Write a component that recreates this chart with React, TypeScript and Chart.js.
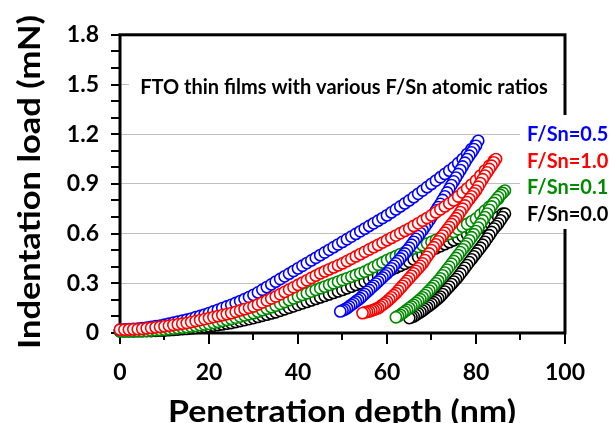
import React, { useEffect, useRef } from "react";
import { Chart, registerables } from "chart.js";
Chart.register(...registerables);

// Loading branch: depth (nm) shared by all series
const loadDepth = [0,1,2,3,4,5,6,7,8,9,10,11,12,13,14,15,16,17,18,19,20,21,22,23,24,25,26,27,28,29,30,31,32,33,34,35,36,37,38,39,40,41,42,43,44,45,46,47,48,49,50,51,52,53,54,55,56,57,58,59,60,61,62,63,64,65,66,67,68,69,70,71,72,73,74,75,76,77,78,79,80,81,82,83,84,85,86];

// F/Sn=0.5 (blue)
const blueLoad = [0.020,0.021,0.023,0.025,0.027,0.030,0.033,0.037,0.041,0.045,0.050,0.056,0.062,0.068,0.074,0.080,0.087,0.095,0.103,0.111,0.120,0.130,0.140,0.150,0.160,0.170,0.181,0.193,0.205,0.217,0.230,0.245,0.261,0.277,0.293,0.310,0.326,0.342,0.358,0.374,0.390,0.406,0.422,0.438,0.454,0.470,0.486,0.502,0.518,0.534,0.550,0.566,0.582,0.598,0.614,0.630,0.646,0.662,0.678,0.694,0.710,0.728,0.746,0.764,0.782,0.800,0.820,0.840,0.860,0.880,0.900,0.920,0.940,0.960,0.980,1.000,1.025,1.050,1.080,1.110,1.140];
const blueUnloadDepth = [80.5,80,79.5,79,78.5,78,77.5,77,76.5,76,75.5,75,74.5,74,73.5,73,72.5,72,71.5,71,70.5,70,69.5,69,68.5,68,67.5,67,66.5,66,65.5,65,64.5,64,63.5,63,62.5,62,61.5,61,60.5,60,59.5,59,58.5,58,57.5,57,56.5,56,55.5,55,54.5,54,53.5,53,52.5,52,51.5,51,50.5,50,49.5];
const blueUnload = [1.160,1.130,1.110,1.090,1.070,1.050,1.028,1.005,0.983,0.960,0.938,0.915,0.893,0.870,0.848,0.825,0.803,0.780,0.760,0.740,0.720,0.700,0.680,0.660,0.640,0.620,0.603,0.585,0.568,0.550,0.533,0.515,0.498,0.480,0.465,0.450,0.435,0.420,0.405,0.390,0.375,0.360,0.348,0.335,0.323,0.310,0.298,0.285,0.273,0.260,0.248,0.235,0.223,0.210,0.200,0.190,0.180,0.170,0.160,0.150,0.142,0.136,0.130];

// F/Sn=1.0 (red)
const redLoad = [0.020,0.020,0.021,0.022,0.023,0.025,0.028,0.031,0.034,0.037,0.040,0.044,0.048,0.052,0.056,0.060,0.066,0.072,0.078,0.084,0.090,0.096,0.102,0.108,0.114,0.120,0.128,0.136,0.144,0.152,0.160,0.172,0.184,0.196,0.208,0.220,0.234,0.248,0.262,0.276,0.290,0.304,0.318,0.332,0.346,0.360,0.372,0.384,0.396,0.408,0.420,0.434,0.448,0.462,0.476,0.490,0.504,0.518,0.532,0.546,0.560,0.574,0.588,0.602,0.616,0.630,0.646,0.662,0.678,0.694,0.710,0.728,0.746,0.764,0.782,0.800,0.824,0.848,0.872,0.896,0.920,0.950,0.980,1.010,1.040];
const redUnloadDepth = [84.5,84,83.5,83,82.5,82,81.5,81,80.5,80,79.5,79,78.5,78,77.5,77,76.5,76,75.5,75,74.5,74,73.5,73,72.5,72,71.5,71,70.5,70,69.5,69,68.5,68,67.5,67,66.5,66,65.5,65,64.5,64,63.5,63,62.5,62,61.5,61,60.5,60,59.5,59,58.5,58,57.5,57,56.5,56,55.5,55,54.5];
const redUnload = [1.050,1.030,1.010,0.990,0.970,0.950,0.928,0.905,0.883,0.860,0.843,0.825,0.808,0.790,0.770,0.750,0.730,0.710,0.693,0.675,0.658,0.640,0.623,0.605,0.588,0.570,0.553,0.535,0.518,0.500,0.480,0.460,0.440,0.420,0.405,0.390,0.375,0.360,0.345,0.330,0.315,0.300,0.285,0.270,0.255,0.240,0.228,0.215,0.203,0.190,0.180,0.170,0.160,0.150,0.145,0.140,0.135,0.130,0.127,0.124,0.120];

// F/Sn=0.1 (green)
const greenLoad = [0.010,0.010,0.010,0.011,0.011,0.012,0.013,0.015,0.017,0.018,0.020,0.023,0.026,0.029,0.032,0.035,0.039,0.043,0.047,0.051,0.055,0.061,0.067,0.073,0.079,0.085,0.092,0.099,0.106,0.113,0.120,0.129,0.138,0.147,0.156,0.165,0.176,0.187,0.198,0.209,0.220,0.230,0.240,0.250,0.260,0.270,0.280,0.290,0.300,0.310,0.320,0.330,0.340,0.350,0.360,0.370,0.384,0.398,0.412,0.426,0.440,0.452,0.464,0.476,0.488,0.500,0.510,0.520,0.530,0.540,0.550,0.562,0.574,0.586,0.598,0.610,0.626,0.642,0.658,0.674,0.690,0.714,0.738,0.762,0.786,0.810,0.850];
const greenUnloadDepth = [86.5,86,85.5,85,84.5,84,83.5,83,82.5,82,81.5,81,80.5,80,79.5,79,78.5,78,77.5,77,76.5,76,75.5,75,74.5,74,73.5,73,72.5,72,71.5,71,70.5,70,69.5,69,68.5,68,67.5,67,66.5,66,65.5,65,64.5,64,63.5,63,62.5,62];
const greenUnload = [0.860,0.845,0.833,0.820,0.803,0.785,0.764,0.743,0.721,0.700,0.679,0.658,0.636,0.615,0.596,0.578,0.559,0.540,0.523,0.505,0.488,0.470,0.453,0.435,0.418,0.400,0.383,0.365,0.348,0.330,0.315,0.300,0.285,0.270,0.256,0.243,0.229,0.215,0.204,0.193,0.181,0.170,0.160,0.150,0.140,0.130,0.120,0.110,0.102,0.095];

// F/Sn=0.0 (black)
const blackLoad = [0.010,0.010,0.010,0.010,0.011,0.011,0.012,0.012,0.013,0.014,0.015,0.017,0.019,0.021,0.023,0.025,0.028,0.031,0.034,0.037,0.040,0.044,0.048,0.052,0.056,0.060,0.066,0.072,0.078,0.084,0.090,0.097,0.104,0.111,0.118,0.125,0.134,0.143,0.152,0.161,0.170,0.179,0.188,0.197,0.206,0.215,0.224,0.233,0.242,0.251,0.260,0.270,0.280,0.290,0.300,0.310,0.322,0.334,0.346,0.358,0.370,0.382,0.394,0.406,0.418,0.430,0.444,0.458,0.472,0.486,0.500,0.512,0.524,0.536,0.548,0.560,0.572,0.584,0.596,0.608,0.620,0.636,0.652,0.668,0.684,0.700,0.720];
const blackUnloadDepth = [86.5,86,85.5,85,84.5,84,83.5,83,82.5,82,81.5,81,80.5,80,79.5,79,78.5,78,77.5,77,76.5,76,75.5,75,74.5,74,73.5,73,72.5,72,71.5,71,70.5,70,69.5,69,68.5,68,67.5,67,66.5,66,65.5,65];
const blackUnload = [0.720,0.700,0.680,0.660,0.645,0.630,0.610,0.590,0.570,0.550,0.533,0.515,0.498,0.480,0.463,0.445,0.428,0.410,0.393,0.375,0.358,0.340,0.325,0.310,0.295,0.280,0.265,0.250,0.235,0.220,0.209,0.198,0.186,0.175,0.165,0.155,0.145,0.135,0.126,0.118,0.109,0.100,0.095,0.090];

// Legend (top to bottom) and colours
const legendLabels = ["F/Sn=0.5", "F/Sn=1.0", "F/Sn=0.1", "F/Sn=0.0"];
const legendColors = ["#0000ff", "#ff0000", "#008a00", "#000000"];
const chartTitle = "FTO thin films with various F/Sn atomic ratios";
const xTitle = "Penetration depth (nm)";
const yTitle = "Indentation load (mN)";

const FONT = "Lato, 'Open Sans', sans-serif";

function pts(depth: number[], load: number[]) {
  const n = Math.min(depth.length, load.length);
  const out: { x: number; y: number }[] = [];
  for (let i = 0; i < n; i++) out.push({ x: depth[i], y: load[i] });
  return out;
}

function series(label: string, color: string, ld: number[], ud: number[], ul: number[]) {
  return {
    label,
    data: [...pts(loadDepth, ld), ...pts(ud, ul)],
    showLine: false,
    pointRadius: 5.6,
    pointBorderWidth: 1.6,
    pointBorderColor: color,
    pointBackgroundColor: "#ffffff",
    clip: false as any,
  };
}

// draw text stretched horizontally to a target ink width
function fitText(ctx: CanvasRenderingContext2D, text: string, cx: number, baseY: number, width: number) {
  const w = ctx.measureText(text).width;
  const s = width / w;
  ctx.save();
  ctx.translate(cx, baseY);
  ctx.scale(s, 1);
  ctx.textAlign = "center";
  ctx.fillText(text, 0, 0);
  ctx.restore();
}

const decor = {
  id: "decor",
  beforeDatasetsDraw(chart: any) {
    const { ctx, chartArea: a, scales } = chart;
    const x = scales.x, y = scales.y;
    ctx.save();
    ctx.strokeStyle = "#000";
    ctx.lineWidth = 2;
    // y ticks (major every 0.3, minor every 0.1), outward
    for (let k = 0; k <= 18; k++) {
      const py = Math.round(y.getPixelForValue(k / 10));
      ctx.beginPath();
      ctx.moveTo(a.left - 9, py);
      ctx.lineTo(a.left, py);
      ctx.stroke();
    }
    // x ticks (major every 20, minor every 10), outward
    for (let k = 0; k <= 10; k++) {
      const px = Math.round(x.getPixelForValue(k * 10));
      const len = k % 2 === 0 ? 11 : 7;
      ctx.beginPath();
      ctx.moveTo(px, a.bottom);
      ctx.lineTo(px, a.bottom + len);
      ctx.stroke();
    }
    ctx.lineWidth = 3;
    ctx.strokeRect(a.left, a.top, a.right - a.left, a.bottom - a.top);
    ctx.restore();
  },
  afterDatasetsDraw(chart: any) {
    const { ctx } = chart;
    ctx.save();
    // title box
    ctx.fillStyle = "#fff";
    ctx.fillRect(129, 74, 433, 26);
    ctx.fillStyle = "#000";
    ctx.font = `bold 20px ${FONT}`;
    ctx.textAlign = "center";
    ctx.textBaseline = "alphabetic";
    ctx.fillText(chartTitle, 344, 94);
    // legend box
    ctx.fillStyle = "#fff";
    ctx.fillRect(520, 115, 91, 114);
    ctx.font = `bold 20px ${FONT}`;
    ctx.textAlign = "left";
    const ys = [141, 167.5, 194, 220.5];
    legendLabels.forEach((t, i) => {
      ctx.fillStyle = legendColors[i];
      ctx.fillText(t, 527, ys[i]);
    });
    // axis titles
    ctx.fillStyle = "#000";
    ctx.font = `bold 30px ${FONT}`;
    fitText(ctx, xTitle, 342, 422, 348);
    ctx.save();
    ctx.translate(40, 182);
    ctx.rotate(-Math.PI / 2);
    fitText(ctx, yTitle, 0, 0, 334);
    ctx.restore();
    ctx.restore();
  },
};

export default function App() {
  const ref = useRef<HTMLCanvasElement>(null);
  useEffect(() => {
    document.body.style.margin = "0";
    const canvas = ref.current!;
    const tickFont = { family: FONT, size: 23, weight: "bold" as const };
    const chart = new Chart(canvas, {
      type: "scatter",
      data: {
        datasets: [
          series(legendLabels[1], legendColors[1], redLoad, redUnloadDepth, redUnload),
          series(legendLabels[0], legendColors[0], blueLoad, blueUnloadDepth, blueUnload),
          series(legendLabels[2], legendColors[2], greenLoad, greenUnloadDepth, greenUnload),
          series(legendLabels[3], legendColors[3], blackLoad, blackUnloadDepth, blackUnload),
        ],
      },
      options: {
        animation: false,
        responsive: false,
        maintainAspectRatio: false,
        layout: { padding: { left: 0, top: 33, right: 44, bottom: 0 } },
        plugins: { legend: { display: false }, tooltip: { enabled: false } },
        scales: {
          x: {
            type: "linear",
            min: 0,
            max: 100,
            grid: { display: false, drawTicks: false },
            border: { display: false },
            ticks: { stepSize: 20, padding: 26, color: "#000", font: tickFont, maxRotation: 0, autoSkip: false },
            afterFit: (s: any) => { s.height = 90; },
          },
          y: {
            type: "linear",
            min: 0,
            max: 1.8,
            grid: { color: "#c0c0c0", lineWidth: 1, drawTicks: false },
            border: { display: false },
            ticks: {
              stepSize: 0.3,
              padding: 21,
              color: "#000",
              font: tickFont,
              callback: (v: any) => (Number(v) === 0 ? "0" : Number(v).toFixed(1)),
            },
            afterFit: (s: any) => { s.width = 120; },
          },
        },
      },
      plugins: [decor],
    });
    return () => chart.destroy();
  }, []);
  return (
    <div style={{ width: 611, height: 423 }}>
      <canvas ref={ref} width={611} height={423} />
    </div>
  );
}
